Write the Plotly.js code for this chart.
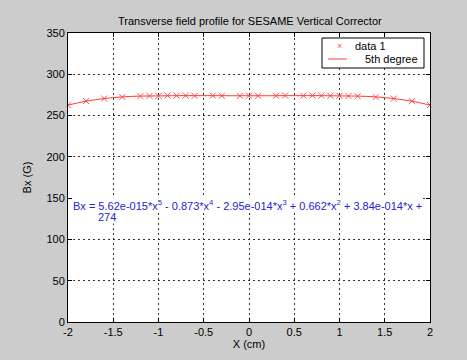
<!DOCTYPE html>
<html>
<head>
<meta charset="utf-8">
<script src="https://cdn.plot.ly/plotly-3.0.1.min.js"></script>
<style>html,body{margin:0;padding:0;background:#cccccc;}#chart{width:467px;height:360px;}</style>
</head>
<body>
<div id="chart"></div>
<script>
// Measured data points (x in cm, Bx in G)
const dataX = [-2, -1.8, -1.6, -1.4, -1.2, -1.1, -1.0, -0.9, -0.8, -0.7, -0.6, -0.4, -0.3, -0.1, 0, 0.1, 0.3, 0.4, 0.6, 0.7, 0.8, 0.9, 1.0, 1.1, 1.2, 1.4, 1.6, 1.8, 2.0];
const dataY = [262.6, 267.5, 270.6, 272.5, 273.5, 273.8, 273.8, 274.3, 274.1, 274.2, 273.9, 274.1, 274.0, 273.9, 274.0, 273.9, 274.0, 274.2, 274.1, 274.2, 274.1, 274.0, 273.9, 273.6, 273.4, 272.4, 270.5, 267.4, 262.8];
// 5th degree fit curve
const fitX = [-2, -1.8, -1.6, -1.4, -1.2, -1.0, -0.8, -0.6, -0.4, -0.2, 0, 0.2, 0.4, 0.6, 0.8, 1.0, 1.2, 1.4, 1.6, 1.8, 2.0];
const fitY = [262.7, 267.4, 270.6, 272.6, 273.6, 273.8, 274.1, 274.1, 274.1, 274.0, 274.0, 274.0, 274.1, 274.1, 274.1, 273.8, 273.6, 272.6, 270.6, 267.4, 262.7];
const xTicks = [-2, -1.5, -1, -0.5, 0, 0.5, 1, 1.5, 2];
const yTicks = [0, 50, 100, 150, 200, 250, 300, 350];
const seriesNames = ['data 1', '5th degree'];
const titleText = 'Transverse field profile for SESAME Vertical Corrector';
const eqLine1 = 'Bx = 5.62e-015*x<sup>5</sup> - 0.873*x<sup>4</sup> - 2.95e-014*x<sup>3</sup> + 0.662*x<sup>2</sup> + 3.84e-014*x +';
const eqLine2 = '274';

const font = {family: 'Liberation Sans, Arial, sans-serif', size: 11, color: '#000'};
const red = '#ff3a3a';
const markerRed = '#ff5050';
const blue = '#2424d0';

const traces = [
  {x: dataX, y: dataY, type: 'scatter', mode: 'markers', name: seriesNames[0],
   marker: {symbol: 'x-thin-open', size: 6, color: markerRed, line: {color: markerRed, width: 1}}},
  {x: fitX, y: fitY, type: 'scatter', mode: 'lines', name: seriesNames[1],
   line: {color: red, width: 1, shape: 'spline'}}
];

const axisCommon = {
  showline: true, linecolor: '#000', linewidth: 1, mirror: 'ticks',
  ticks: 'inside', ticklen: 4, tickcolor: '#000',
  showgrid: true, gridcolor: '#333333', gridwidth: 1, griddash: '2px,3px',
  zeroline: false, tickfont: font
};

// plot area in pixels: x 68..430, y 33..322
const px = p => (p - 68) / 362;
const py = p => 1 - (p - 33) / 289;

const layout = {
  width: 467, height: 360,
  paper_bgcolor: '#cccccc', plot_bgcolor: '#ffffff',
  margin: {l: 68, r: 37, t: 33, b: 38},
  font: font,
  showlegend: false,
  title: {text: titleText, font: font, x: 0.535, xanchor: 'center', y: 1 - 21/360, yanchor: 'middle'},
  xaxis: Object.assign({}, axisCommon, {range: [-2, 2], tickvals: xTicks, ticktext: xTicks.map(String),
    title: {text: 'X (cm)', font: font, standoff: 3}}),
  yaxis: Object.assign({}, axisCommon, {range: [0, 350], tickvals: yTicks, ticktext: yTicks.map(String),
    title: {text: 'Bx (G)', font: font, standoff: 12}}),
  shapes: [
    {type: 'rect', xref: 'paper', yref: 'paper', x0: px(322), x1: px(424), y0: py(68), y1: py(38),
     fillcolor: '#ffffff', line: {color: '#000', width: 1}, layer: 'above'},
    {type: 'line', xref: 'paper', yref: 'paper', x0: px(328), x1: px(347), y0: py(59), y1: py(59),
     line: {color: red, width: 1}, layer: 'above'}
  ],
  annotations: [
    {x: 0.012, xref: 'paper', y: 142, yref: 'y', xanchor: 'left', yanchor: 'middle',
     text: eqLine1, showarrow: false, bgcolor: '#ffffff', borderpad: 0,
     font: {family: font.family, size: 11, color: blue}},
    {x: 0.08, xref: 'paper', y: 127, yref: 'y', xanchor: 'left', yanchor: 'middle',
     text: eqLine2, showarrow: false, bgcolor: '#ffffff', borderpad: 0,
     font: {family: font.family, size: 11, color: blue}},
    {x: px(339), xref: 'paper', y: py(46), yref: 'paper', xanchor: 'center', yanchor: 'middle',
     text: '×', showarrow: false, font: {family: font.family, size: 9, color: markerRed}},
    {x: px(353), xref: 'paper', y: py(46), yref: 'paper', xanchor: 'left', yanchor: 'middle',
     text: seriesNames[0], showarrow: false, font: font},
    {x: px(363), xref: 'paper', y: py(59), yref: 'paper', xanchor: 'left', yanchor: 'middle',
     text: seriesNames[1], showarrow: false, font: font}
  ]
};

Plotly.newPlot('chart', traces, layout, {displayModeBar: false, staticPlot: true});
</script>
</body>
</html>
